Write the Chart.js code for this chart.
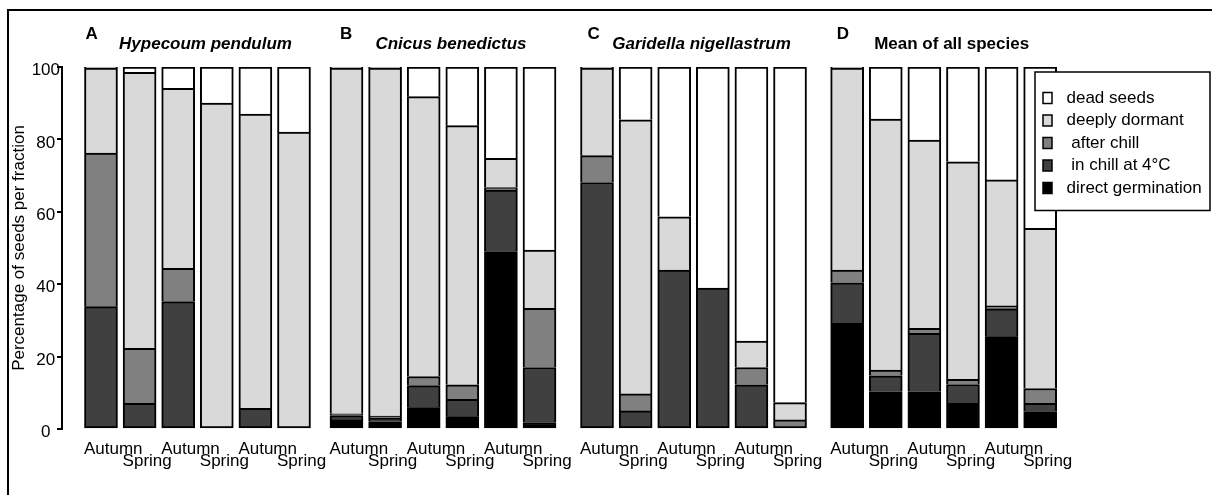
<!DOCTYPE html>
<html>
<head>
<meta charset="utf-8">
<title>Seed fractions</title>
<script src="https://cdn.jsdelivr.net/npm/chart.js@4.4.1/dist/chart.umd.min.js"></script>
<style>
	html, body { margin: 0; padding: 0; background: #fff; }
	#wrap { position: relative; width: 1212px; height: 495px; overflow: hidden; }
	#frame {
		position: absolute; left: 7px; top: 9px; width: 1300px; height: 600px;
		border-left: 2px solid #000; border-top: 2px solid #000;
	}
	canvas { position: absolute; left: 0; top: 0; }
</style>
</head>
<body>
<div id="wrap">
	<div id="frame"></div>
	<canvas id="chart" width="1212" height="495"></canvas>
</div>
<script>
// --- Data ---
const PANEL_LETTERS = ["A", "B", "C", "D"];
const PANEL_TITLES = ["Hypecoum pendulum", "Cnicus benedictus", "Garidella nigellastrum", "Mean of all species"];
const SEASONS = ["Autumn", "Spring", "Autumn", "Spring", "Autumn", "Spring"];
const Y_TICKS = [0, 20, 40, 60, 80, 100];
// stacking order, bottom to top
const FRACTIONS = ["direct germination", " in chill at 4°C", " after chill", "deeply dormant", "dead seeds"];

// % of seeds per fraction, 6 bars per panel (A | B | C | D)
const direct = [
	0, 0, 0, 0, 0, 0,
	2.5, 2.0, 5.9, 3.4, 49.0, 1.8,
	0, 0, 0, 0, 0, 0,
	29.2, 10.3, 10.3, 7.1, 25.5, 4.8,
];
const inChill = [
	33.8, 7.1, 35.2, 0, 5.7, 0,
	1.2, 1.0, 6.1, 4.8, 17.0, 15.2,
	68.1, 5.0, 43.9, 38.9, 12.2, 0,
	11.2, 4.4, 16.1, 5.2, 7.7, 2.3,
];
const afterChill = [
	42.4, 15.2, 9.2, 0, 0, 0,
	0.5, 0.6, 2.5, 4.0, 0.7, 16.3,
	7.4, 4.7, 0, 0, 4.8, 2.5,
	3.5, 1.6, 1.4, 1.4, 0.8, 4.1,
];
const deeplyDormant = [
	23.5, 76.2, 49.7, 90.0, 81.3, 82.0,
	95.5, 96.1, 77.3, 71.6, 8.1, 16.1,
	24.2, 75.7, 14.7, 0, 7.3, 4.8,
	55.8, 69.3, 52.0, 60.1, 34.8, 44.2,
];
const dead = [
	0.3, 1.5, 5.9, 10.0, 13.0, 18.0,
	0.3, 0.3, 8.2, 16.2, 25.2, 50.6,
	0.3, 14.6, 41.4, 61.1, 75.7, 92.7,
	0.3, 14.4, 20.2, 26.2, 31.2, 44.6,
];

const SERIES = [direct, inChill, afterChill, deeplyDormant, dead];
const FILLS = ["#000000", "#404040", "#808080", "#d9d9d9", "#ffffff"];

// --- Layout (x in units of one bar step) ---
const PANEL_START = [0, 6.36, 12.85, 19.33];
const BAR_PX = 33;
const FONT = "'Liberation Sans', Arial, sans-serif";

const barXs = [];
PANEL_START.forEach((start) => {
	for (let i = 0; i < 6; i++) barXs.push(start + i);
});

// lowest non-empty segment keeps its bottom edge
function lowestSeries(j) {
	for (let k = 0; k < SERIES.length; k++) if (SERIES[k][j] > 0) return k;
	return 0;
}

Chart.defaults.font.family = FONT;
Chart.defaults.color = "#000";

const datasets = FRACTIONS.map((label, k) => ({
	label,
	data: SERIES[k].map((v, j) => ({ x: barXs[j], y: v })),
	backgroundColor: FILLS[k],
	borderColor: "#000",
	borderWidth: 2,
	borderSkipped: (ctx) => (ctx.datasetIndex === lowestSeries(ctx.dataIndex) ? false : "start"),
	barThickness: BAR_PX,
}));

// panel letters and species names above each group
const panelText = {
	id: "panelText",
	afterDraw(chart) {
		const { ctx, scales } = chart;
		const xs = scales.x;
		const nudge = [1, 10, 7, 6];
		ctx.save();
		ctx.fillStyle = "#000";
		ctx.textBaseline = "alphabetic";
		PANEL_START.forEach((start, p) => {
			const left = xs.getPixelForValue(start) - BAR_PX / 2;
			const mid = (xs.getPixelForValue(start) + xs.getPixelForValue(start + 5)) / 2;
			ctx.font = "bold 17px " + FONT;
			ctx.textAlign = "left";
			ctx.fillText(PANEL_LETTERS[p], left + nudge[p], 38.5);
			ctx.font = (p < 3 ? "italic bold 17px " : "bold 17px ") + FONT;
			ctx.textAlign = "center";
			ctx.fillText(PANEL_TITLES[p], mid + 8, 49);
		});
		ctx.restore();
	},
};

// boxed legend in the top-right corner, drawn over the last bar
const boxLegend = {
	id: "boxLegend",
	afterDraw(chart) {
		const { ctx } = chart;
		const bx = 1035, by = 72, bw = 175, bh = 138.5;
		ctx.save();
		ctx.fillStyle = "#fff";
		ctx.fillRect(bx, by, bw, bh);
		ctx.strokeStyle = "#000";
		ctx.lineWidth = 1.5;
		ctx.strokeRect(bx, by, bw, bh);
		ctx.font = "17px " + FONT;
		ctx.textBaseline = "middle";
		ctx.textAlign = "left";
		const items = chart.data.datasets.slice().reverse();
		items.forEach((ds, r) => {
			const y = 98 + r * 22.5;
			ctx.fillStyle = ds.backgroundColor;
			ctx.fillRect(1043, y - 5.5, 9, 11);
			ctx.lineWidth = 1.5;
			ctx.strokeRect(1043, y - 5.5, 9, 11);
			ctx.fillStyle = "#000";
			ctx.fillText(ds.label, 1066.5, y);
		});
		ctx.restore();
	},
};

new Chart(document.getElementById("chart"), {
	type: "bar",
	data: { datasets },
	plugins: [panelText, boxLegend],
	options: {
		responsive: false,
		animation: false,
		layout: { padding: { top: 67, right: 112, bottom: 0, left: 0 } },
		plugins: {
			legend: { display: false },
			tooltip: { enabled: false },
		},
		scales: {
			x: {
				type: "linear",
				min: -1.01,
				max: 25.88,
				offset: false,
				stacked: true,
				grid: { display: false, offset: false },
				border: { display: false },
				afterBuildTicks: (s) => {
					s.ticks = barXs.map((v) => ({ value: v }));
				},
				afterFit: (s) => {
					s.height = 66;
				},
				ticks: {
					autoSkip: false,
					maxRotation: 0,
					minRotation: 0,
					align: "start",
					labelOffset: -17,
					padding: 6.5,
					color: "#000",
					font: { size: 17, lineHeight: 0.69 },
					callback: (v, i) => (i % 2 ? ["", SEASONS[i % 6]] : SEASONS[i % 6]),
				},
			},
			y: {
				min: 0,
				max: 100,
				stacked: true,
				afterBuildTicks: (s) => {
					s.ticks = Y_TICKS.map((v) => ({ value: v }));
				},
				afterFit: (s) => {
					s.width = 62;
				},
				grid: { drawOnChartArea: false, tickLength: 5, color: "#000", lineWidth: 2 },
				border: { color: "#000", width: 2 },
				ticks: {
					color: "#000",
					font: { size: 17 },
					crossAlign: "center",
					padding: -3,
					labelOffset: 3.5,
				},
				title: {
					display: true,
					text: "Percentage of seeds per fraction",
					color: "#000",
					font: { size: 17 },
					padding: { top: 9, bottom: 0 },
				},
			},
		},
	},
});
</script>
</body>
</html>
